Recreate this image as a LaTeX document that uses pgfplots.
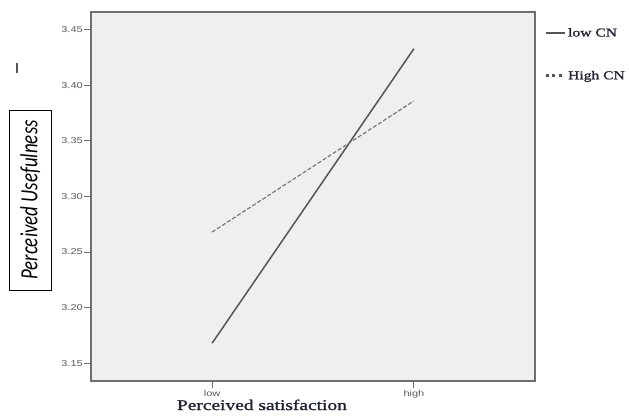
\documentclass[border=0pt]{standalone}
\usepackage{fontspec}
\usepackage{pgfplots}
\pgfplotsset{compat=1.18}
\newfontfamily\serifw[FakeStretch=1.3,FakeBold=1.3]{Liberation Serif}
\newfontfamily\tickf[FakeStretch=1.3]{Liberation Sans}
\newfontfamily\ylabf{Carlito}
\definecolor{bgfill}{HTML}{EFEFEF}
\definecolor{framec}{HTML}{6E6E6E}
\definecolor{linec}{HTML}{555555}
\definecolor{dashc}{HTML}{707070}
\definecolor{tickc}{HTML}{5A5A5A}
\definecolor{txtc}{HTML}{1E2233}
\begin{document}
\begin{tikzpicture}
\path[use as bounding box] (0,0) rectangle (629bp,-419bp);
\begin{axis}[
  at={(91bp,-381bp)}, anchor=south west,
  scale only axis, width=444bp, height=369bp,
  xmin=-0.6, xmax=1.6, ymin=3.134, ymax=3.466,
  xtick={0,1}, xticklabels={low,high},
  ytick={3.15,3.20,3.25,3.30,3.35,3.40,3.45},
  yticklabel style={/pgf/number format/fixed, /pgf/number format/fixed zerofill, /pgf/number format/precision=2, inner xsep=1bp},
  /pgf/number format/assume math mode=true,
  ticklabel style={font=\tickf\fontsize{8.5}{10}\selectfont, text=tickc},
  xticklabel style={inner ysep=2bp},
  axis background/.style={fill=bgfill},
  axis line style={draw=framec, line width=1.8bp},
  tick style={draw=framec, line width=1bp},
  tick align=outside, major tick length=7bp,
  xtick pos=left, ytick pos=left,
  xlabel={Perceived satisfaction},
  x label style={at={(axis description cs:0.385,0)}, anchor=north, yshift=-15bp,
    font=\serifw\fontsize{15}{17}\selectfont, text=txtc},
  ylabel={\scalebox{1}[1.3]{\ylabf\itshape\fontsize{19}{22}\selectfont Perceived Usefulness}},
  y label style={at={(axis description cs:-0.137,0.4905)}, anchor=center,
    draw=black, line width=0.8bp, minimum width=180bp, minimum height=42bp, inner sep=0pt},
  legend style={at={(axis description cs:1,1)}, anchor=north west, draw=none, fill=none,
    font=\serifw\fontsize{12}{14}\selectfont, text=txtc, row sep=29bp, inner sep=0pt,
    xshift=9bp, yshift=-14bp},
  legend cell align=left,
]
\addplot[linec, line width=1.5bp,
  legend image code/.code={\draw[linec, line width=1.4bp] (0bp,0bp) -- (19bp,0bp);}]
  coordinates {(0,3.168) (1,3.433)};
\addlegendentry{low CN}
\addplot[dashc, line width=1.1bp, dash pattern=on 4bp off 2bp,
  legend image code/.code={\draw[linec, line width=3bp, dash pattern=on 3bp off 3.5bp] (0bp,0bp) -- (19bp,0bp);}]
  coordinates {(0,3.268) (1,3.386)};
\addlegendentry{High CN}
\end{axis}
\node[fill=linec, inner sep=0pt, minimum width=2bp, minimum height=10bp] at (17bp,-68bp) {};
\end{tikzpicture}
\end{document}
